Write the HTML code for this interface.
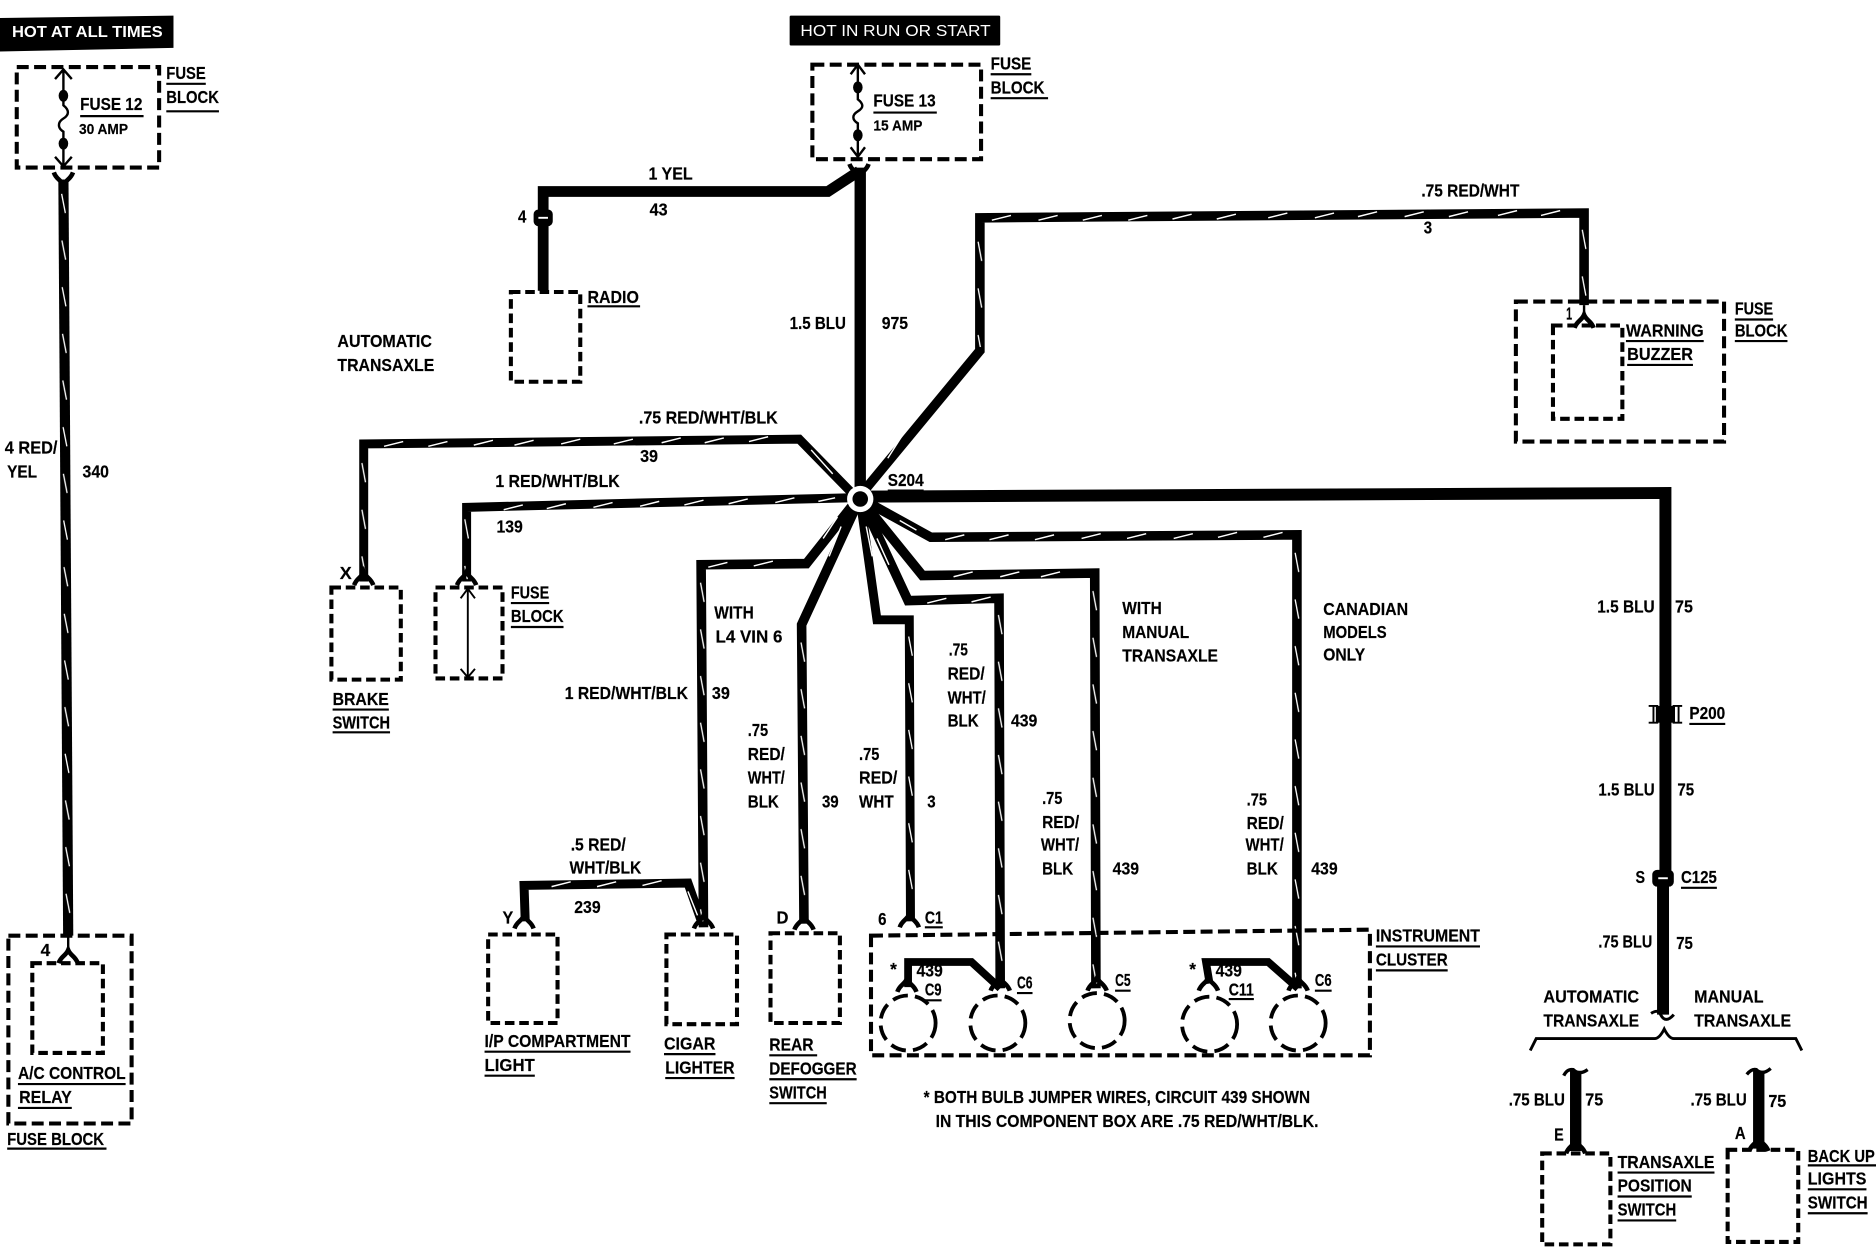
<!DOCTYPE html>
<html><head><meta charset="utf-8"><title>Wiring diagram</title>
<style>
html,body{margin:0;padding:0;background:#fff}
svg{display:block}
text{font-family:"Liberation Sans",sans-serif;font-weight:bold;font-size:14.5px;fill:#000;stroke:#000;stroke-width:.15}
.w{fill:none;stroke:#000;stroke-linejoin:miter}
.b{fill:none;stroke:#000;stroke-width:3.4;stroke-dasharray:10 4.5}
.s{fill:none;stroke:#000;stroke-width:3.4;stroke-dasharray:8 4}
.t{fill:none;stroke:#fff;stroke-width:1.2}
.u{fill:none;stroke:#000;stroke-width:1.8}
</style></head><body>
<svg xmlns="http://www.w3.org/2000/svg" width="1876" height="1248" viewBox="0 0 1568 1043">
<defs>
<path id="c" d="M-8,4 C-6,-2 -2,-2 0,-7 C2,-2 6,-2 8,4" fill="none" stroke="#000" stroke-width="3.8"/>
<pattern id="pv" patternUnits="userSpaceOnUse" width="8" height="39">
<path d="M2.5,2 L5.5,18" stroke="#fff" stroke-width="1.1" fill="none"/>
</pattern>
</defs>
<rect width="1568" height="1043" fill="#fff"/>
<!-- banners -->
<polygon points="0,15 145,13 145,40 0,43" fill="#000"/>
<rect x="660" y="13" width="176" height="25" rx="1" fill="#000"/>
<text x="10" y="31" textLength="126" lengthAdjust="spacingAndGlyphs" style="fill:#fff;stroke:none;font-size:13px">HOT AT ALL TIMES</text>
<text x="669" y="30" textLength="159" lengthAdjust="spacingAndGlyphs" style="fill:#fff;stroke:none;font-size:13px;font-weight:normal">HOT IN RUN OR START</text>

<!-- wires -->
<path class="w" stroke-width="8.5" d="M53,150 L57,782"/>
<path class="w" stroke-width="9" d="M454,243 L454,160 L692,160 L718,143"/>
<path class="w" stroke-width="9.5" d="M719,140 L719,412"/>
<path class="w" stroke-width="8" d="M724,408 L819,293 L819,182 L1324,178 L1324,255"/>
<path class="w" stroke-width="7.5" d="M712,412 L668,367 L304,371 L304,486"/>
<path class="w" stroke-width="7.5" d="M712,416 L390,424 L390,486"/>
<path class="w" stroke-width="10" d="M722,415 L1392,412 L1392,730"/>
<path class="w" stroke-width="10" d="M1390,735 L1390,848"/>
<path class="w" stroke-width="8" d="M720,417 L778,449 L1084,447 L1084,826"/>
<path class="w" stroke-width="8" d="M720,418 L771,481 L915,479 L916,826"/>
<path class="w" stroke-width="8" d="M720,418 L759,502 L835,500 L836,826"/>
<path class="w" stroke-width="7.5" d="M719,418 L733,518 L760,518 L761,770"/>
<path class="w" stroke-width="8" d="M718,418 L670,522 L672,772"/>
<path class="w" stroke-width="8" d="M716,418 L674,471 L586,472 L588,775"/>
<path class="w" stroke-width="7.5" d="M439,770 L438,740 L575,738 L587,772"/>
<path class="w" stroke-width="6.5" d="M759,825 L759,804 L812,804 L836,826"/>
<path class="w" stroke-width="6.5" d="M1011,822 L1008,804 L1060,804 L1085,826"/>
<path class="w" stroke-width="9.5" d="M1317,895 L1317,962"/>
<path class="w" stroke-width="9.5" d="M1470,895 L1470,960"/>

<!-- white tracer ticks: verticals -->
<rect transform="translate(49,160) rotate(-0.36)" width="8" height="618" fill="url(#pv)"/>
<rect transform="translate(815,200)" width="8" height="90" fill="url(#pv)"/>
<rect transform="translate(1320,190)" width="8" height="60" fill="url(#pv)"/>
<rect transform="translate(300,385)" width="8" height="100" fill="url(#pv)"/>
<rect transform="translate(386,432)" width="8" height="52" fill="url(#pv)"/>
<rect transform="translate(1080,460)" width="8" height="360" fill="url(#pv)"/>
<rect transform="translate(911,492)" width="8" height="330" fill="url(#pv)"/>
<rect transform="translate(832,512)" width="8" height="310" fill="url(#pv)"/>
<rect transform="translate(757,530)" width="8" height="236" fill="url(#pv)"/>
<rect transform="translate(667,535)" width="8" height="232" fill="url(#pv)"/>
<rect transform="translate(583,485)" width="8" height="285" fill="url(#pv)"/>
<!-- horizontals and diagonals -->
<path class="t" d="M829,184 l16,-4 M868,184 l16,-4 M905,184 l16,-4 M943,184 l16,-4 M980,183 l16,-4 M1017,183 l16,-4 M1060,182 l16,-4 M1099,182 l16,-4 M1135,181 l16,-4 M1174,181 l16,-4 M1211,181 l16,-4 M1252,180 l16,-4 M1288,180 l16,-4"/>
<path class="t" d="M321,373 l16,-4 M358,373 l16,-4 M396,372 l16,-4 M430,372 l16,-4 M469,371 l16,-4 M513,371 l16,-4 M553,370 l16,-4 M589,370 l16,-4 M626,369 l16,-4"/>
<path class="t" d="M421,426 l16,-4 M457,425 l16,-4 M496,424 l16,-4 M535,423 l16,-4 M572,422 l16,-4 M609,421 l16,-4 M648,420 l16,-4 M684,419 l14,-3"/>
<path class="t" d="M790,451 l16,-4 M827,451 l16,-4 M865,451 l16,-4 M904,450 l16,-4 M942,450 l16,-4 M981,450 l16,-4 M1018,449 l16,-4 M1056,449 l16,-4"/>
<path class="t" d="M797,482 l16,-4 M836,482 l16,-4 M870,482 l16,-4 M775,504 l16,-4 M812,503 l16,-4 M592,474 l16,-4 M630,473 l16,-4 M461,741 l16,-4 M499,741 l16,-4 M537,740 l16,-4"/>
<path class="t" d="M678,376 l18,20 M742,383 l14,-22 M752,435 l14,8 M745,440 l14,18 M733,450 l10,22 M724,440 l5,25 M703,440 l-10,25 M700,432 l-12,18 M575,745 l8,20"/>

<!-- connectors -->
<use href="#c" transform="translate(53,148) rotate(180)"/>
<use href="#c" transform="translate(304,485)"/>
<use href="#c" transform="translate(390,485)"/>
<use href="#c" transform="translate(438,772)"/>
<use href="#c" transform="translate(588,772)"/>
<use href="#c" transform="translate(672,773)"/>
<use href="#c" transform="translate(760,771)"/>
<use href="#c" transform="translate(758,825)"/>
<use href="#c" transform="translate(836,824)"/>
<use href="#c" transform="translate(917,824)"/>
<use href="#c" transform="translate(1010,824)"/>
<use href="#c" transform="translate(1085,824)"/>
<use href="#c" transform="translate(1317,960)"/>
<use href="#c" transform="translate(1470,958)"/>
<use href="#c" transform="translate(718,141) rotate(180)"/>
<!-- radio double connector -->
<rect x="446" y="175" width="16" height="14" rx="4" fill="#000"/>
<path d="M450,182 H458" stroke="#fff" stroke-width="1.6"/>
<!-- thin stems into nested boxes -->
<path d="M57,782 V797 M1324,255 V266" stroke="#000" stroke-width="2" fill="none"/>
<use href="#c" transform="translate(57,801)"/>
<use href="#c" transform="translate(1324,270)"/>
<!-- P200 -->
<rect x="1384" y="590" width="16" height="14" fill="#000"/>
<path d="M1378,590 H1386 M1378,604 H1386 M1398,590 H1406 M1398,604 H1406 M1382,590 V604 M1403,590 V604" stroke="#000" stroke-width="1.6" fill="none"/>
<!-- C125 -->
<rect x="1381" y="727" width="18" height="14" rx="4" fill="#000"/>
<path d="M1386,734 H1394" stroke="#fff" stroke-width="1.6"/>
<!-- curls and brace -->
<path d="M1380,847 Q1386,843 1388,848 Q1392,856 1399,848" fill="none" stroke="#000" stroke-width="2.5"/>
<path d="M1279,878 L1284,868 H1383 Q1387,868 1391,860 Q1395,868 1399,868 H1501 L1506,878" fill="none" stroke="#000" stroke-width="2.4"/>
<path d="M1307,899 Q1310,893 1315,894 Q1320,899 1327,894 M1460,898 Q1464,893 1468,894 Q1473,899 1480,893" fill="none" stroke="#000" stroke-width="2.8"/>

<!-- dashed boxes -->
<rect class="b" x="14" y="56" width="119" height="84"/>
<rect class="b" x="679" y="54" width="141" height="79"/>
<rect class="s" x="427" y="244" width="58" height="75"/>
<rect class="b" x="1267" y="252" width="174" height="117"/>
<rect class="s" x="1298" y="272" width="58" height="78"/>
<rect class="s" x="277" y="491" width="58" height="77"/>
<rect class="s" x="364" y="491" width="56" height="76"/>
<rect class="s" x="408" y="781" width="58" height="74"/>
<rect class="s" x="557" y="781" width="59" height="75"/>
<rect class="s" x="644" y="780" width="58" height="75"/>
<path class="b" d="M728,782 L1145,777 V882 H728 Z"/>
<rect class="b" x="7" y="782" width="103" height="157"/>
<rect class="s" x="27" y="805" width="59" height="75"/>
<rect class="s" x="1289" y="964" width="57" height="76"/>
<rect class="s" x="1444" y="961" width="59" height="77"/>

<!-- bulbs -->
<g fill="none" stroke="#000" stroke-width="3.2" stroke-dasharray="13 6">
<circle cx="759" cy="855" r="23"/>
<circle cx="834" cy="855" r="23"/>
<circle cx="917" cy="853" r="23"/>
<circle cx="1011" cy="856" r="23"/>
<circle cx="1085" cy="855" r="23"/>
</g>

<!-- fuses -->
<g fill="none" stroke="#000" stroke-width="2">
<path d="M53,58 V80 M53,120 V138 M46,66 L53,58 L60,66 M46,131 L53,139 L60,131"/>
<path d="M53,80 V88 C58,92 58,96 53,99 C48,102 48,107 53,110 V120"/>
<path d="M717,54 V73 M717,113 V131 M711,62 L717,54 L723,62 M711,123 L717,131 L723,123"/>
<path d="M717,73 V83 C722,87 722,90 717,93 C712,96 712,100 717,103 V113"/>
<path d="M391,492 V566 M385,500 L391,492 L397,500 M385,559 L391,566 L397,559" stroke-width="1.6"/>
</g>
<ellipse cx="53" cy="80" rx="4" ry="5"/>
<ellipse cx="53" cy="120" rx="4" ry="5"/>
<ellipse cx="717" cy="73" rx="4" ry="5"/>
<ellipse cx="717" cy="113" rx="4" ry="5"/>

<!-- S204 -->
<circle cx="719" cy="417" r="11" fill="#fff"/>
<circle cx="719" cy="417" r="6.5" fill="#000"/>

<!-- underlines -->
<path class="u" d="M139,70 H172 M139,93 H183 M67,97 H120 M730,94 H783 M828,62 H862 M828,82 H876 M491,256 H535
M1359,285 H1424 M1360,305 H1415 M1450,267 H1482 M1450,285 H1494 M742,410 H772 M278,593 H325 M278,612 H326
M427,504 H459 M427,524 H471 M1412,605 H1442 M1405,742 H1435 M1352,980 H1433 M1352,1000 H1414 M1352,1020 H1401
M1511,974 H1568 M1511,994 H1560 M1511,1014 H1561 M773,775 H788 M405,879 H527 M405,899 H447 M555,881 H598 M556,901 H614
M643,882 H683 M643,902 H716 M643,922 H691 M773,836 H787 M850,830 H863 M932,828 H945 M1027,835 H1048 M1099,828 H1113
M1150,791 H1237 M1150,811 H1210 M15,906 H105 M15,926 H60 M6,960 H89"/>

<!-- labels -->
<g>
<text x="139" y="66" textLength="33" lengthAdjust="spacingAndGlyphs">FUSE</text>
<text x="139" y="86" textLength="44" lengthAdjust="spacingAndGlyphs">BLOCK</text>
<text x="67" y="92" textLength="52" lengthAdjust="spacingAndGlyphs">FUSE 12</text>
<text x="66" y="112" textLength="41" lengthAdjust="spacingAndGlyphs" style="font-size:12.5px">30 AMP</text>
<text x="730" y="89" textLength="52" lengthAdjust="spacingAndGlyphs">FUSE 13</text>
<text x="730" y="109" textLength="41" lengthAdjust="spacingAndGlyphs" style="font-size:12.5px">15 AMP</text>
<text x="828" y="58" textLength="34" lengthAdjust="spacingAndGlyphs">FUSE</text>
<text x="828" y="78" textLength="45" lengthAdjust="spacingAndGlyphs">BLOCK</text>
<text x="542" y="150" textLength="37" lengthAdjust="spacingAndGlyphs">1 YEL</text>
<text x="543" y="180" textLength="15" lengthAdjust="spacingAndGlyphs">43</text>
<text x="433" y="186" textLength="7" lengthAdjust="spacingAndGlyphs">4</text>
<text x="491" y="253" textLength="43" lengthAdjust="spacingAndGlyphs">RADIO</text>
<text x="282" y="290" textLength="79" lengthAdjust="spacingAndGlyphs">AUTOMATIC</text>
<text x="282" y="310" textLength="81" lengthAdjust="spacingAndGlyphs">TRANSAXLE</text>
<text x="660" y="275" textLength="47" lengthAdjust="spacingAndGlyphs">1.5 BLU</text>
<text x="737" y="275" textLength="22" lengthAdjust="spacingAndGlyphs">975</text>
<text x="1188" y="164" textLength="82" lengthAdjust="spacingAndGlyphs">.75 RED/WHT</text>
<text x="1190" y="195" textLength="7" lengthAdjust="spacingAndGlyphs">3</text>
<text x="1309" y="267" textLength="5" lengthAdjust="spacingAndGlyphs">1</text>
<text x="1359" y="281" textLength="65" lengthAdjust="spacingAndGlyphs">WARNING</text>
<text x="1360" y="301" textLength="55" lengthAdjust="spacingAndGlyphs">BUZZER</text>
<text x="1450" y="263" textLength="32" lengthAdjust="spacingAndGlyphs">FUSE</text>
<text x="1450" y="281" textLength="44" lengthAdjust="spacingAndGlyphs">BLOCK</text>
<text x="534" y="354" textLength="116" lengthAdjust="spacingAndGlyphs">.75 RED/WHT/BLK</text>
<text x="535" y="386" textLength="15" lengthAdjust="spacingAndGlyphs">39</text>
<text x="414" y="407" textLength="104" lengthAdjust="spacingAndGlyphs">1 RED/WHT/BLK</text>
<text x="415" y="445" textLength="22" lengthAdjust="spacingAndGlyphs">139</text>
<text x="742" y="406" textLength="30" lengthAdjust="spacingAndGlyphs">S204</text>
<text x="284" y="484" textLength="10" lengthAdjust="spacingAndGlyphs">X</text>
<text x="278" y="589" textLength="47" lengthAdjust="spacingAndGlyphs">BRAKE</text>
<text x="278" y="609" textLength="48" lengthAdjust="spacingAndGlyphs">SWITCH</text>
<text x="427" y="500" textLength="32" lengthAdjust="spacingAndGlyphs">FUSE</text>
<text x="427" y="520" textLength="44" lengthAdjust="spacingAndGlyphs">BLOCK</text>
<text x="597" y="517" textLength="33" lengthAdjust="spacingAndGlyphs">WITH</text>
<text x="598" y="537" textLength="56" lengthAdjust="spacingAndGlyphs">L4 VIN 6</text>
<text x="472" y="584" textLength="103" lengthAdjust="spacingAndGlyphs">1 RED/WHT/BLK</text>
<text x="595" y="584" textLength="15" lengthAdjust="spacingAndGlyphs">39</text>
<text x="625" y="615" textLength="17" lengthAdjust="spacingAndGlyphs">.75</text>
<text x="625" y="635" textLength="31" lengthAdjust="spacingAndGlyphs">RED/</text>
<text x="625" y="655" textLength="31" lengthAdjust="spacingAndGlyphs">WHT/</text>
<text x="625" y="675" textLength="26" lengthAdjust="spacingAndGlyphs">BLK</text>
<text x="687" y="675" textLength="14" lengthAdjust="spacingAndGlyphs">39</text>
<text x="718" y="635" textLength="17" lengthAdjust="spacingAndGlyphs">.75</text>
<text x="718" y="655" textLength="32" lengthAdjust="spacingAndGlyphs">RED/</text>
<text x="718" y="675" textLength="29" lengthAdjust="spacingAndGlyphs">WHT</text>
<text x="775" y="675" textLength="7" lengthAdjust="spacingAndGlyphs">3</text>
<text x="793" y="548" textLength="16" lengthAdjust="spacingAndGlyphs">.75</text>
<text x="792" y="568" textLength="31" lengthAdjust="spacingAndGlyphs">RED/</text>
<text x="792" y="588" textLength="32" lengthAdjust="spacingAndGlyphs">WHT/</text>
<text x="792" y="607" textLength="26" lengthAdjust="spacingAndGlyphs">BLK</text>
<text x="845" y="607" textLength="22" lengthAdjust="spacingAndGlyphs">439</text>
<text x="938" y="513" textLength="33" lengthAdjust="spacingAndGlyphs">WITH</text>
<text x="938" y="533" textLength="56" lengthAdjust="spacingAndGlyphs">MANUAL</text>
<text x="938" y="553" textLength="80" lengthAdjust="spacingAndGlyphs">TRANSAXLE</text>
<text x="1106" y="514" textLength="71" lengthAdjust="spacingAndGlyphs">CANADIAN</text>
<text x="1106" y="533" textLength="53" lengthAdjust="spacingAndGlyphs">MODELS</text>
<text x="1106" y="552" textLength="35" lengthAdjust="spacingAndGlyphs">ONLY</text>
<text x="871" y="672" textLength="17" lengthAdjust="spacingAndGlyphs">.75</text>
<text x="871" y="692" textLength="31" lengthAdjust="spacingAndGlyphs">RED/</text>
<text x="870" y="711" textLength="32" lengthAdjust="spacingAndGlyphs">WHT/</text>
<text x="871" y="731" textLength="26" lengthAdjust="spacingAndGlyphs">BLK</text>
<text x="930" y="731" textLength="22" lengthAdjust="spacingAndGlyphs">439</text>
<text x="1042" y="673" textLength="17" lengthAdjust="spacingAndGlyphs">.75</text>
<text x="1042" y="693" textLength="31" lengthAdjust="spacingAndGlyphs">RED/</text>
<text x="1041" y="711" textLength="32" lengthAdjust="spacingAndGlyphs">WHT/</text>
<text x="1042" y="731" textLength="26" lengthAdjust="spacingAndGlyphs">BLK</text>
<text x="1096" y="731" textLength="22" lengthAdjust="spacingAndGlyphs">439</text>
<text x="1335" y="512" textLength="48" lengthAdjust="spacingAndGlyphs">1.5 BLU</text>
<text x="1400" y="512" textLength="15" lengthAdjust="spacingAndGlyphs">75</text>
<text x="1412" y="601" textLength="30" lengthAdjust="spacingAndGlyphs">P200</text>
<text x="1336" y="665" textLength="47" lengthAdjust="spacingAndGlyphs">1.5 BLU</text>
<text x="1402" y="665" textLength="14" lengthAdjust="spacingAndGlyphs">75</text>
<text x="1367" y="738" textLength="8" lengthAdjust="spacingAndGlyphs">S</text>
<text x="1405" y="738" textLength="30" lengthAdjust="spacingAndGlyphs">C125</text>
<text x="1336" y="792" textLength="45" lengthAdjust="spacingAndGlyphs">.75 BLU</text>
<text x="1401" y="793" textLength="14" lengthAdjust="spacingAndGlyphs">75</text>
<text x="1290" y="838" textLength="80" lengthAdjust="spacingAndGlyphs">AUTOMATIC</text>
<text x="1290" y="858" textLength="80" lengthAdjust="spacingAndGlyphs">TRANSAXLE</text>
<text x="1416" y="838" textLength="58" lengthAdjust="spacingAndGlyphs">MANUAL</text>
<text x="1416" y="858" textLength="81" lengthAdjust="spacingAndGlyphs">TRANSAXLE</text>
<text x="1261" y="924" textLength="47" lengthAdjust="spacingAndGlyphs">.75 BLU</text>
<text x="1325" y="924" textLength="15" lengthAdjust="spacingAndGlyphs">75</text>
<text x="1413" y="924" textLength="47" lengthAdjust="spacingAndGlyphs">.75 BLU</text>
<text x="1478" y="925" textLength="15" lengthAdjust="spacingAndGlyphs">75</text>
<text x="1299" y="953" textLength="8" lengthAdjust="spacingAndGlyphs">E</text>
<text x="1450" y="952" textLength="9" lengthAdjust="spacingAndGlyphs">A</text>
<text x="1352" y="976" textLength="81" lengthAdjust="spacingAndGlyphs">TRANSAXLE</text>
<text x="1352" y="996" textLength="62" lengthAdjust="spacingAndGlyphs">POSITION</text>
<text x="1352" y="1016" textLength="49" lengthAdjust="spacingAndGlyphs">SWITCH</text>
<text x="1511" y="971" textLength="56" lengthAdjust="spacingAndGlyphs">BACK UP</text>
<text x="1511" y="990" textLength="49" lengthAdjust="spacingAndGlyphs">LIGHTS</text>
<text x="1511" y="1010" textLength="50" lengthAdjust="spacingAndGlyphs">SWITCH</text>
<text x="420" y="772" textLength="9" lengthAdjust="spacingAndGlyphs">Y</text>
<text x="480" y="763" textLength="22" lengthAdjust="spacingAndGlyphs">239</text>
<text x="477" y="711" textLength="46" lengthAdjust="spacingAndGlyphs">.5 RED/</text>
<text x="476" y="730" textLength="60" lengthAdjust="spacingAndGlyphs">WHT/BLK</text>
<text x="649" y="772" textLength="10" lengthAdjust="spacingAndGlyphs">D</text>
<text x="734" y="773" textLength="7" lengthAdjust="spacingAndGlyphs">6</text>
<text x="773" y="772" textLength="15" lengthAdjust="spacingAndGlyphs">C1</text>
<text x="405" y="875" textLength="122" lengthAdjust="spacingAndGlyphs">I/P COMPARTMENT</text>
<text x="405" y="895" textLength="42" lengthAdjust="spacingAndGlyphs">LIGHT</text>
<text x="555" y="877" textLength="43" lengthAdjust="spacingAndGlyphs">CIGAR</text>
<text x="556" y="897" textLength="58" lengthAdjust="spacingAndGlyphs">LIGHTER</text>
<text x="643" y="878" textLength="37" lengthAdjust="spacingAndGlyphs">REAR</text>
<text x="643" y="898" textLength="73" lengthAdjust="spacingAndGlyphs">DEFOGGER</text>
<text x="643" y="918" textLength="48" lengthAdjust="spacingAndGlyphs">SWITCH</text>
<text x="744" y="815">*</text>
<text x="766" y="816" textLength="22" lengthAdjust="spacingAndGlyphs">439</text>
<text x="773" y="832" textLength="14" lengthAdjust="spacingAndGlyphs">C9</text>
<text x="850" y="826" textLength="13" lengthAdjust="spacingAndGlyphs">C6</text>
<text x="932" y="824" textLength="13" lengthAdjust="spacingAndGlyphs">C5</text>
<text x="994" y="815">*</text>
<text x="1016" y="816" textLength="22" lengthAdjust="spacingAndGlyphs">439</text>
<text x="1027" y="832" textLength="21" lengthAdjust="spacingAndGlyphs">C11</text>
<text x="1099" y="824" textLength="14" lengthAdjust="spacingAndGlyphs">C6</text>
<text x="1150" y="787" textLength="87" lengthAdjust="spacingAndGlyphs">INSTRUMENT</text>
<text x="1150" y="807" textLength="60" lengthAdjust="spacingAndGlyphs">CLUSTER</text>
<text x="772" y="922" textLength="323" lengthAdjust="spacingAndGlyphs">* BOTH BULB JUMPER WIRES, CIRCUIT 439 SHOWN</text>
<text x="782" y="942" textLength="320" lengthAdjust="spacingAndGlyphs">IN THIS COMPONENT BOX ARE .75 RED/WHT/BLK.</text>
<text x="34" y="799" textLength="8" lengthAdjust="spacingAndGlyphs">4</text>
<text x="15" y="902" textLength="90" lengthAdjust="spacingAndGlyphs">A/C CONTROL</text>
<text x="16" y="922" textLength="44" lengthAdjust="spacingAndGlyphs">RELAY</text>
<text x="6" y="957" textLength="81" lengthAdjust="spacingAndGlyphs">FUSE BLOCK</text>
<text x="4" y="379" textLength="44" lengthAdjust="spacingAndGlyphs">4 RED/</text>
<text x="6" y="399" textLength="25" lengthAdjust="spacingAndGlyphs">YEL</text>
<text x="69" y="399" textLength="22" lengthAdjust="spacingAndGlyphs">340</text>
</g>
</svg>
</body></html>
